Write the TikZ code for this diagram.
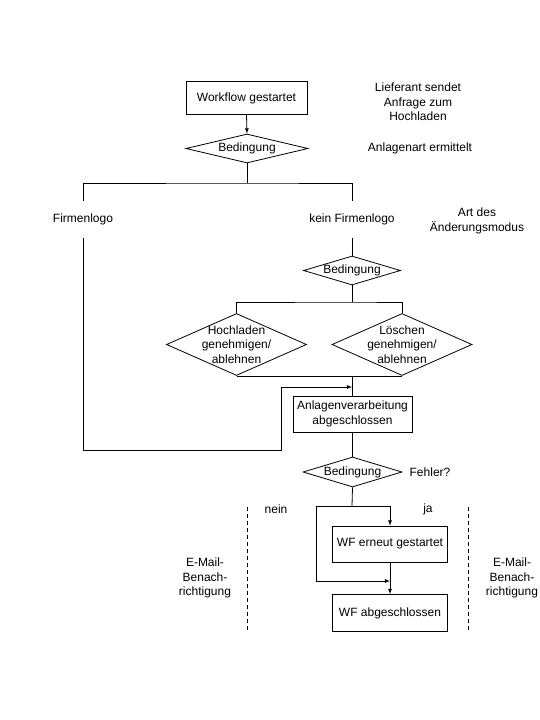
\documentclass[tikz,border=0pt]{standalone}
\usepackage{fontspec}
\setmainfont{Liberation Sans}
\usetikzlibrary{shapes,arrows,positioning}

\begin{document}
\begin{tikzpicture}[x=1pt, y=-1pt, thick, >=latex, font=\fontsize{12}{14.5}\selectfont]
      \tikzstyle{box} = [rectangle, draw, align=center, inner sep=2pt]
      \tikzstyle{cond} = [diamond, draw, align=center, inner sep=-12pt]
      \tikzstyle{note} = [align=center, inner sep=1pt]
      
      \useasboundingbox (0,0) rectangle (540,720);
      
      \node[box, minimum width=121pt, minimum height=33pt] (start) at (246.5,98) {Workflow gestartet};
      \node[cond, minimum width=122pt, minimum height=29pt] (cond1) at (247,148.5) {Bedingung};
      \node[note] (sender) at (418,102) {Lieferant sendet\\Anfrage zum\\Hochladen};
      \node[note] (kind) at (420,148) {Anlagenart ermittelt};
      
      \node[note, minimum height=37pt] (logo) at (83,219.5) {Firmenlogo};
      \node[note, minimum height=37pt] (nologo) at (352,219.5) {kein Firmenlogo};
      \node[note] (mode) at (477,221) {Art des\\Änderungsmodus};
      
      \node[cond, minimum width=97pt, minimum height=29pt] (cond2) at (352,270.5) {Bedingung};
      \node[cond, minimum width=140pt, minimum height=62pt] (upload) at (236.5,344.5) {Hochladen\\genehmigen/\\ablehnen};
      \node[cond, minimum width=140pt, minimum height=62pt] (delete) at (402,344.5) {Löschen\\genehmigen/\\ablehnen};
      
      \node[box, minimum width=119pt, minimum height=36pt] (processed) at (352.5,414) {Anlagenverarbeitung\\abgeschlossen};
      \node[cond, minimum width=99pt, minimum height=30pt] (cond3) at (352.5,472) {Bedingung};
      \node[note] (error) at (430,472) {Fehler?};
      
      \node[note] (no) at (276,509) {nein};
      \node[note] (yes) at (428,509) {ja};
      \node[box, minimum width=115pt, minimum height=36pt] (restart) at (390,544) {WF erneut gestartet};
      \node[box, minimum width=115pt, minimum height=37pt] (finished) at (390,613) {WF abgeschlossen};
      \node[note] (mailleft) at (205,578) {E-Mail-\\Benach-\\richtigung};
      \node[note] (mailright) at (512,578) {E-Mail-\\Benach-\\richtigung};
      
      \coordinate (split1) at (247,183);
      \coordinate (split2) at (352,302);
      \coordinate (entry) at (352,387);
      \coordinate (split3) at (352,506);
      \coordinate (merge) at (390,581);
      
      \draw[->] (start.south) -- (cond1.north);
      \draw (cond1.south) -- (split1);
      \draw (logo.north) |- (split1) -| (nologo.north);
      \draw (nologo.south) -- (cond2.north);
      \draw (cond2.south) -- (split2);
      \draw (upload.north) |- (split2) -| (delete.north);
      \draw (upload.south) -- (delete.south);
      \draw (upload.south -| processed.north) -- (processed.north);
      \draw[->] (logo.south) |- (281,450) |- (entry);
      
      \draw (processed.south) -- (cond3.north);
      \draw (cond3.south) -- (split3);
      \draw[->] (split3) -| (restart.north);
      \draw[->] (split3) -- (316,506) |- (merge);
      \draw[->] (restart.south) -- (finished.north);
      
      \draw[dash pattern=on 4pt off 3pt] (247,507) -- (247,630);
      \draw[dash pattern=on 4pt off 3pt] (468,507) -- (468,630);
    \end{tikzpicture}
\end{document}
